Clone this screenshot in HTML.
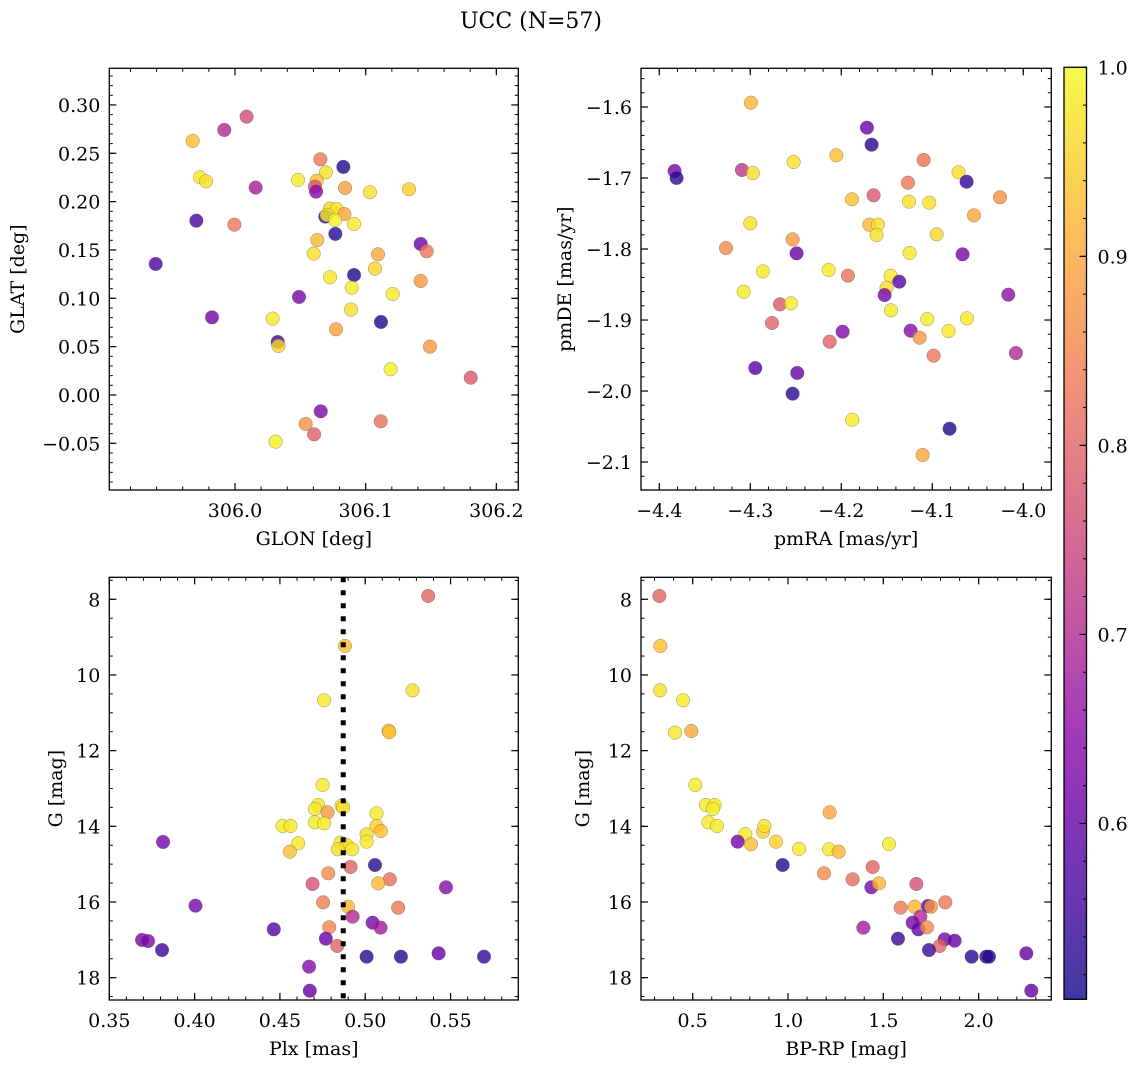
<!DOCTYPE html>
<html><head><meta charset="utf-8"><style>
html,body{margin:0;padding:0;background:#fff;}
svg{display:block;font-family:"DejaVu Serif","Liberation Serif",serif;}
</style></head><body>
<svg id="fig" width="1136" height="1067" viewBox="0 0 1136 1067" xmlns="http://www.w3.org/2000/svg">
<text x="531" y="28" font-size="22" text-anchor="middle">UCC (N=57)</text>
<defs><linearGradient id="cbgrad" x1="0" y1="1" x2="0" y2="0"></linearGradient></defs>
</svg>
<script>
const glon=[306.0089,305.9918,305.9676,305.9732,305.9778,306.0158,305.9704,305.9995,305.9393,305.9824,306.0490,306.0288,306.0327,306.0332,306.0311,306.0541,306.0605,306.0656,306.0653,306.0829,306.0696,306.0482,306.0625,306.0612,306.0620,306.0842,306.1033,306.1332,306.0727,306.0778,306.0691,306.0702,306.0837,306.0765,306.0911,306.0768,306.0630,306.0602,306.1094,306.1421,306.1467,306.1071,306.0911,306.0727,306.0893,306.1207,306.1421,306.0888,306.1117,306.0773,306.1492,306.1191,306.1804,306.1115];
const glat=[0.2879,0.2741,0.2628,0.2252,0.2210,0.2145,0.1803,0.1762,0.1355,0.0803,0.1014,0.0790,0.0548,0.0507,-0.0483,-0.0300,-0.0407,-0.0169,0.2438,0.2359,0.2303,0.2224,0.2217,0.2155,0.2103,0.2141,0.2097,0.2128,0.1928,0.1924,0.1845,0.1862,0.1872,0.1810,0.1769,0.1666,0.1603,0.1462,0.1455,0.1562,0.1486,0.1307,0.1241,0.1217,0.1110,0.1045,0.1179,0.0883,0.0755,0.0679,0.0500,0.0266,0.0179,-0.0272];
const prob1=[0.76,0.70,0.93,0.98,0.97,0.68,0.56,0.83,0.57,0.62,0.62,0.98,0.55,0.96,0.99,0.87,0.79,0.63,0.83,0.52,0.97,0.98,0.93,0.77,0.64,0.89,0.97,0.95,0.96,0.97,0.53,0.98,0.90,0.99,0.98,0.53,0.92,0.97,0.90,0.60,0.83,0.96,0.52,0.98,0.98,0.98,0.88,0.97,0.52,0.89,0.88,0.99,0.78,0.82];

const pmra=[-4.3832,-4.3810,-4.2993,-4.1718,-4.1667,-4.2055,-4.2524,-4.3092,-4.2971,-4.1095,-4.0711,-4.0623,-4.1267,-4.1645,-4.1883,-4.1256,-4.1033,-4.0256,-4.0542,-4.3000,-4.1692,-4.1597,-4.1612,-4.0952,-4.2535,-4.3267,-4.2491,-4.1249,-4.0667,-4.2861,-4.2139,-4.1927,-4.1458,-4.1363,-4.1502,-4.1524,-4.3073,-4.2674,-4.2553,-4.0165,-4.1454,-4.2762,-4.1055,-4.0619,-4.1985,-4.1238,-4.0821,-4.1139,-4.2128,-4.0985,-4.0081,-4.2945,-4.2484,-4.2535,-4.1879,-4.0810,-4.1106];
const pmde=[-1.6901,-1.7000,-1.5939,-1.6291,-1.6531,-1.6681,-1.6775,-1.6887,-1.6930,-1.6746,-1.6920,-1.7052,-1.7066,-1.7244,-1.7300,-1.7333,-1.7347,-1.7272,-1.7526,-1.7638,-1.7657,-1.7657,-1.7803,-1.7793,-1.7864,-1.7986,-1.8061,-1.8056,-1.8075,-1.8315,-1.8296,-1.8376,-1.8376,-1.8460,-1.8545,-1.8648,-1.8601,-1.8779,-1.8765,-1.8643,-1.8864,-1.9042,-1.8986,-1.8977,-1.9164,-1.9150,-1.9155,-1.9249,-1.9305,-1.9502,-1.9465,-1.9676,-1.9746,-2.0038,-2.0404,-2.0531,-2.0901];
const prob2=[0.62,0.53,0.92,0.60,0.53,0.93,0.97,0.72,0.97,0.82,0.97,0.54,0.83,0.78,0.93,0.97,0.97,0.87,0.90,0.97,0.92,0.97,0.97,0.96,0.88,0.86,0.60,0.98,0.62,0.98,0.98,0.82,0.98,0.58,0.97,0.62,0.98,0.78,0.98,0.65,0.98,0.80,0.98,0.98,0.63,0.64,0.98,0.88,0.80,0.83,0.70,0.58,0.60,0.53,0.98,0.52,0.90];

const plx=[0.5369,0.4881,0.5277,0.4759,0.5137,0.5141,0.4750,0.4724,0.4705,0.4779,0.4861,0.4871,0.5066,0.4515,0.4562,0.4705,0.4759,0.5066,0.5092,0.5008,0.5008,0.4607,0.4558,0.4855,0.4890,0.4839,0.4924,0.3815,0.5057,0.4914,0.4783,0.4691,0.5144,0.5076,0.5473,0.4005,0.4753,0.4900,0.5193,0.4926,0.5043,0.5090,0.4789,0.4464,0.3692,0.3727,0.3809,0.4769,0.4836,0.5008,0.5209,0.5430,0.5696,0.4671,0.4675];
const gmag3=[7.912,9.233,10.405,10.670,11.471,11.515,12.907,13.436,13.542,13.630,13.454,13.498,13.656,13.991,13.991,13.894,13.921,13.991,14.123,14.211,14.405,14.449,14.670,14.432,14.493,14.608,14.608,14.414,15.022,15.075,15.242,15.524,15.401,15.507,15.612,16.097,16.009,16.123,16.150,16.388,16.546,16.678,16.670,16.722,17.004,17.031,17.269,16.969,17.163,17.445,17.445,17.357,17.445,17.709,18.344];
const prob3=[0.80,0.93,0.97,0.98,0.93,0.93,0.98,0.98,0.98,0.88,0.97,0.97,0.98,0.98,0.98,0.98,0.98,0.95,0.93,0.97,0.98,0.98,0.93,0.97,0.97,0.97,0.98,0.62,0.53,0.80,0.86,0.77,0.82,0.92,0.64,0.62,0.84,0.92,0.83,0.70,0.62,0.68,0.85,0.58,0.62,0.63,0.55,0.60,0.80,0.53,0.53,0.60,0.54,0.64,0.60];
const plxMedian=0.4871;

const bprp=[0.3252,0.3304,0.3287,0.4493,0.4073,0.4930,0.5140,0.5699,0.6154,0.6066,0.5822,0.6276,0.7762,0.8059,0.8689,0.8759,0.9371,0.7360,1.0577,1.2185,1.2150,1.2657,1.5297,0.9720,1.4441,1.1888,1.3392,1.4371,1.4773,1.6731,1.5909,1.6643,1.7343,1.7500,1.8252,1.6941,1.6538,1.6836,1.7290,1.3951,1.5769,1.8217,1.8741,1.7955,1.7395,1.9633,2.0402,2.0542,2.2500,2.2762];
const gmag4=[7.912,9.233,10.405,10.670,11.524,11.480,12.907,13.436,13.436,13.542,13.894,13.991,14.203,14.476,14.141,13.991,14.405,14.405,14.599,13.630,14.608,14.670,14.467,15.022,15.075,15.242,15.401,15.612,15.507,15.524,16.150,16.123,16.106,16.123,16.009,16.388,16.546,16.722,16.670,16.678,16.969,16.987,17.022,17.163,17.269,17.445,17.445,17.445,17.357,18.344];
const prob4=[0.80,0.93,0.97,0.98,0.98,0.90,0.98,0.98,0.98,0.99,0.98,0.98,0.98,0.93,0.95,0.97,0.95,0.62,0.98,0.90,0.98,0.92,0.98,0.53,0.80,0.86,0.82,0.62,0.92,0.77,0.83,0.92,0.58,0.88,0.83,0.70,0.62,0.60,0.86,0.68,0.55,0.62,0.60,0.80,0.55,0.53,0.53,0.53,0.60,0.60];

const ticks1x=[306.0,306.1,306.2], ticks1y=[-0.05,0.00,0.05,0.10,0.15,0.20,0.25,0.30];
const labels1x=["306.0","306.1","306.2"], labels1y=["−0.05","0.00","0.05","0.10","0.15","0.20","0.25","0.30"];
const ticks2x=[-4.4,-4.3,-4.2,-4.1,-4.0], ticks2y=[-2.1,-2.0,-1.9,-1.8,-1.7,-1.6];
const labels2x=["−4.4","−4.3","−4.2","−4.1","−4.0"], labels2y=["−2.1","−2.0","−1.9","−1.8","−1.7","−1.6"];
const ticks3x=[0.35,0.40,0.45,0.50,0.55], labels3x=["0.35","0.40","0.45","0.50","0.55"];
const ticksG=[8,10,12,14,16,18], labelsG=["8","10","12","14","16","18"];
const ticks4x=[0.5,1.0,1.5,2.0], labels4x=["0.5","1.0","1.5","2.0"];
const cbTicks=[0.6,0.7,0.8,0.9,1.0], cbLabels=["0.6","0.7","0.8","0.9","1.0"];
const vmin=0.507, vmax=1.0;

const FS=19;
const NS="http://www.w3.org/2000/svg";
const svg=document.getElementById('fig');
function mk(tag,attrs,parent){const e=document.createElementNS(NS,tag);for(const k in attrs)e.setAttribute(k,attrs[k]);(parent||svg).appendChild(e);return e;}
const plasma=[[13,8,135],[65,4,157],[106,0,168],[143,13,164],[177,42,144],[204,71,120],[225,100,98],[242,132,75],[252,166,54],[252,206,37],[240,249,33]];
function cmap(v){let t=(v-vmin)/(vmax-vmin);t=Math.max(0,Math.min(1,t));const f=t*10,i=Math.min(9,Math.floor(f)),r=f-i;const a=plasma[i],b=plasma[i+1];return `rgb(${Math.round(a[0]+(b[0]-a[0])*r)},${Math.round(a[1]+(b[1]-a[1])*r)},${Math.round(a[2]+(b[2]-a[2])*r)})`;}

function panel(o){
  const g=mk('g',{});
  
  
  const sx=v=>o.x0+(v-o.xmin)/(o.xmax-o.xmin)*(o.x1-o.x0);
  const sy=o.invert?(v=>o.y0+(v-o.ymin)/(o.ymax-o.ymin)*(o.y1-o.y0)):(v=>o.y1-(v-o.ymin)/(o.ymax-o.ymin)*(o.y1-o.y0));
  const minors=mk('g',{stroke:'#000','stroke-width':1},g);
  
  
  for(let v=Math.ceil(o.xmin/o.mx)*o.mx;v<=o.xmax+1e-9;v+=o.mx){const x=sx(v);mk('line',{x1:x,x2:x,y1:o.y1,y2:o.y1-3.5},minors);mk('line',{x1:x,x2:x,y1:o.y0,y2:o.y0+3.5},minors);}
  for(let v=Math.ceil(o.ymin/o.my)*o.my;v<=o.ymax+1e-9;v+=o.my){const y=sy(v);mk('line',{x1:o.x0,x2:o.x0+3.5,y1:y,y2:y},minors);mk('line',{x1:o.x1,x2:o.x1-3.5,y1:y,y2:y},minors);}
  const majors=mk('g',{stroke:'#000','stroke-width':1.2},g);
  
  
  o.tx.forEach((v,i)=>{const x=sx(v);mk('line',{x1:x,x2:x,y1:o.y1,y2:o.y1-7},majors);mk('line',{x1:x,x2:x,y1:o.y0,y2:o.y0+7},majors);
    const t=mk('text',{x:x,y:o.y1+27,'font-size':FS,'text-anchor':'middle'},g);t.textContent=o.lx[i];
    
    });
  o.ty.forEach((v,i)=>{const y=sy(v);mk('line',{x1:o.x0,x2:o.x0+7,y1:y,y2:y},majors);mk('line',{x1:o.x1,x2:o.x1-7,y1:y,y2:y},majors);
    const t=mk('text',{x:o.x0-9,y:y+7,'font-size':FS,'text-anchor':'end'},g);t.textContent=o.ly[i];
    
    });
  const pts=mk('g',{},g);
  
  
  o.xs.forEach((v,i)=>{const c=mk('circle',{cx:sx(v),cy:sy(o.ys[i]),r:6.8,fill:cmap(o.cs[i]),'fill-opacity':0.8,stroke:'#555','stroke-opacity':0.6,'stroke-width':0.5},pts);
    
    });
  if(o.vline!==undefined){const x=sx(o.vline);const l=mk('line',{x1:x,x2:x,y1:o.y0,y2:o.y1,stroke:'#000','stroke-width':5,'stroke-dasharray':'5 8'},g);
    
    }
  const fr=mk('rect',{x:o.x0,y:o.y0,width:o.x1-o.x0,height:o.y1-o.y0,fill:'none',stroke:'#000','stroke-width':1.3},g);
  
  
  const xl=mk('text',{x:(o.x0+o.x1)/2,y:o.y1+55,'font-size':FS,'text-anchor':'middle'},g);xl.textContent=o.xlabel;
  
  
  const cy=(o.y0+o.y1)/2;
  const yl=mk('text',{x:o.ylx,y:cy,'font-size':FS,'text-anchor':'middle',transform:`rotate(-90 ${o.ylx} ${cy})`},g);yl.textContent=o.ylabel;
  
  
}

panel({name:'glon-glat-panel',x0:109.3,x1:518.3,y0:68.3,y1:490,xmin:305.9038,xmax:306.2168,ymin:-0.0983,ymax:0.3379,mx:0.02,my:0.01,tx:ticks1x,lx:labels1x,ty:ticks1y,ly:labels1y,xs:glon,ys:glat,cs:prob1,xlabel:'GLON [deg]',ylabel:'GLAT [deg]',ylx:24});
panel({name:'pm-panel',x0:641,x1:1051.3,y0:68.3,y1:490,xmin:-4.4201,xmax:-3.9692,ymin:-2.1394,ymax:-1.5455,mx:0.02,my:0.02,tx:ticks2x,lx:labels2x,ty:ticks2y,ly:labels2y,xs:pmra,ys:pmde,cs:prob2,xlabel:'pmRA [mas/yr]',ylabel:'pmDE [mas/yr]',ylx:571});
panel({name:'plx-g-panel',x0:109.3,x1:518.3,y0:577.3,y1:1000,xmin:0.35,xmax:0.5897,ymin:7.419,ymax:18.59,invert:true,mx:0.01,my:0.5,tx:ticks3x,lx:labels3x,ty:ticksG,ly:labelsG,xs:plx,ys:gmag3,cs:prob3,vline:plxMedian,xlabel:'Plx [mas]',ylabel:'G [mag]',ylx:62});
panel({name:'cmd-panel',x0:641,x1:1051.3,y0:577.3,y1:1000,xmin:0.229,xmax:2.381,ymin:7.419,ymax:18.59,invert:true,mx:0.1,my:0.5,tx:ticks4x,lx:labels4x,ty:ticksG,ly:labelsG,xs:bprp,ys:gmag4,cs:prob4,xlabel:'BP-RP [mag]',ylabel:'G [mag]',ylx:589});

const grad=document.getElementById('cbgrad');
for(let k=0;k<=20;k++){const v=vmin+(vmax-vmin)*k/20;mk('stop',{offset:(k/20),'stop-color':cmap(v),'stop-opacity':0.8},grad);}
const cb={x0:1064,x1:1086.5,y0:67.3,y1:999.3};
const cbs=v=>cb.y1-(v-vmin)/(vmax-vmin)*(cb.y1-cb.y0);
const cg=mk('g',{});


mk('rect',{x:cb.x0,y:cb.y0,width:cb.x1-cb.x0,height:cb.y1-cb.y0,fill:'url(#cbgrad)'},cg);
for(let v=0.52;v<=1.0001;v+=0.02){const y=cbs(v);mk('line',{x1:cb.x1,x2:cb.x1-3.5,y1:y,y2:y,stroke:'#000','stroke-width':1},cg);}
cbTicks.forEach((v,i)=>{const y=cbs(v);mk('line',{x1:cb.x1,x2:cb.x1-7,y1:y,y2:y,stroke:'#000','stroke-width':1.2},cg);
  const t=mk('text',{x:cb.x1+11,y:y+7,'font-size':FS},cg);t.textContent=cbLabels[i];
  
  });
mk('rect',{x:cb.x0,y:cb.y0,width:cb.x1-cb.x0,height:cb.y1-cb.y0,fill:'none',stroke:'#000','stroke-width':1.3},cg);
</script>
</body></html>
